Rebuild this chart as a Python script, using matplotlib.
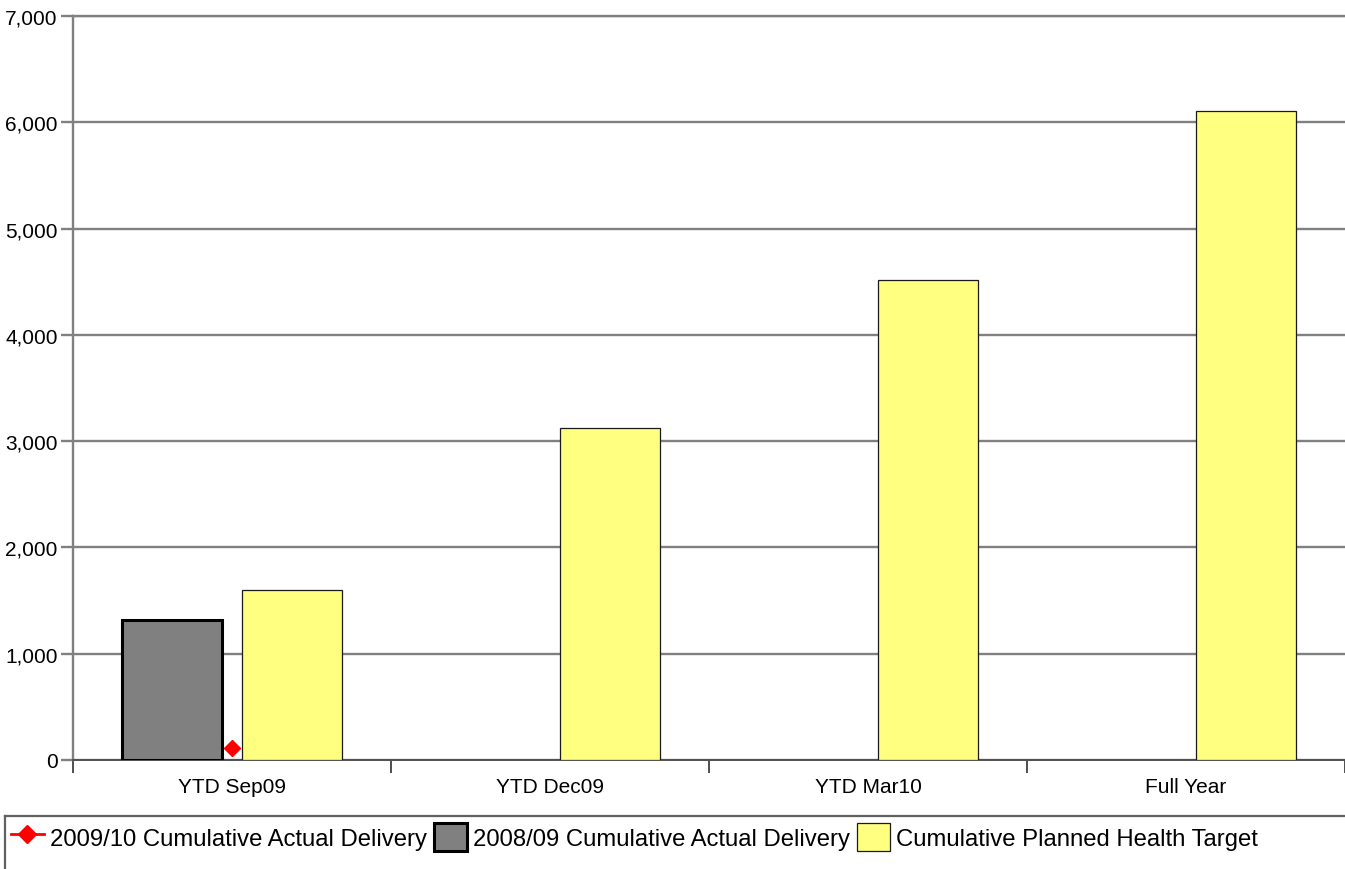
import numpy as np
import matplotlib
matplotlib.use("Agg")
import matplotlib.pyplot as plt
from matplotlib.lines import Line2D
from matplotlib.patches import Patch
from matplotlib.ticker import FuncFormatter, FixedLocator

plt.rcParams['font.family'] = ['Liberation Sans', 'DejaVu Sans']

categories = ["YTD Sep09", "YTD Dec09", "YTD Mar10", "Full Year"]
actual_0910 = [110, np.nan, np.nan, np.nan]
actual_0809 = [1315, np.nan, np.nan, np.nan]
planned_target = [1595, 3120, 4515, 6110]
series_names = ["2009/10 Cumulative Actual Delivery",
                "2008/09 Cumulative Actual Delivery",
                "Cumulative Planned Health Target"]

W, H = 1345, 870
fig = plt.figure(figsize=(W / 100, H / 100), dpi=100)
ax = fig.add_axes([73 / W, (H - 761) / H, (W - 73) / W, 744 / H])

x = np.arange(len(categories))
bw = 0.314
off = 0.188
ax.bar(x - off, actual_0809, width=bw, color='#808080', edgecolor='#000000',
       linewidth=2.2, zorder=3)
ax.bar(x + off, planned_target, width=bw, color='#FFFF80', edgecolor='#1a1a1a',
       linewidth=0.9, zorder=3)
ax.plot(x, actual_0910, color='#FF0000', marker='D', markersize=8.5,
        linewidth=2, zorder=4, clip_on=False)

ax.set_xlim(-0.5, len(categories) - 0.5)
ax.set_ylim(0, 7000)
ax.set_yticks(np.arange(0, 7001, 1000))
ax.yaxis.set_major_formatter(FuncFormatter(lambda v, p: f"{int(v):,}"))
ax.yaxis.grid(True, color='#808080', linewidth=1.7)
ax.set_axisbelow(True)

ax.spines['right'].set_visible(False)
ax.spines['top'].set_color('#808080')
ax.spines['top'].set_linewidth(1.7)
ax.spines['left'].set_color('#808080')
ax.spines['left'].set_linewidth(1.7)
ax.spines['bottom'].set_color('#505050')
ax.spines['bottom'].set_linewidth(1.4)

ax.tick_params(axis='y', colors='#808080', length=9, width=1.7, pad=2,
               labelsize=15, labelcolor='#000000')
ax.set_xticks(x)
ax.set_xticklabels(categories)
ax.tick_params(axis='x', which='major', length=0, pad=12, labelsize=15,
               labelcolor='#000000')
ax.xaxis.set_minor_locator(FixedLocator(np.arange(-0.5, len(categories), 1.0)))
ax.tick_params(axis='x', which='minor', length=9.5, width=1.2, color='#303030')

# legend border (top and left edges)
fig.add_artist(Line2D([5 / W, 1.0], [(H - 817) / H, (H - 817) / H],
                      transform=fig.transFigure, color='#606060', linewidth=1.6))
fig.add_artist(Line2D([5 / W, 5 / W], [(H - 817) / H, 0],
                      transform=fig.transFigure, color='#606060', linewidth=1.6))

handles = [
    Line2D([], [], color='#FF0000', marker='D', markersize=9.5, linewidth=2),
    Patch(facecolor='#808080', edgecolor='#000000', linewidth=2.2),
    Patch(facecolor='#FFFF80', edgecolor='#1a1a1a', linewidth=0.9),
]
fig.legend(handles, series_names, loc='center left',
           bbox_to_anchor=(11 / W, (H - 838) / H), ncol=3, frameon=False,
           fontsize=17.2, borderpad=0, borderaxespad=0, handlelength=1.38,
           handleheight=1.4, handletextpad=0.25, columnspacing=0.3)

fig.savefig("out.png", dpi=100)
